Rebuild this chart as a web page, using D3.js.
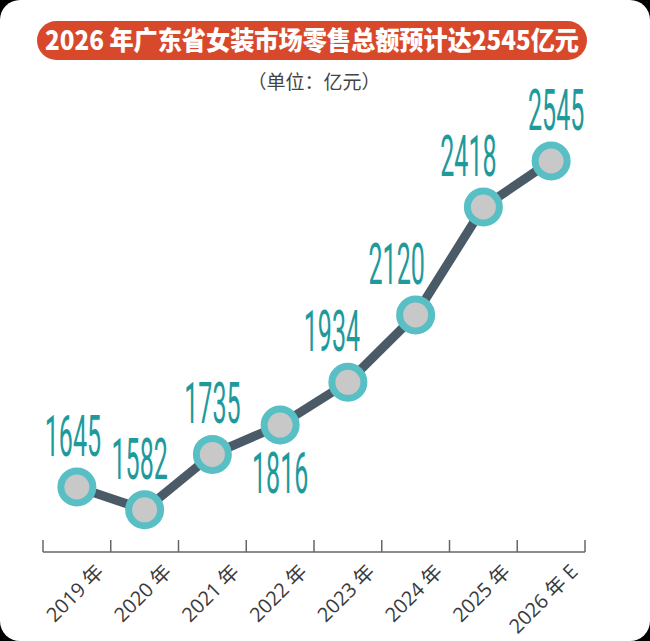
<!DOCTYPE html>
<html><head><meta charset="utf-8">
<script src="https://cdn.jsdelivr.net/npm/d3@7/dist/d3.min.js"></script>
<style>html,body{margin:0;padding:0;background:#000;}svg{display:block;}</style>
</head><body>
<script>
const titleText = "2026 年广东省女装市场零售总额预计达2545亿元";
const unitText = "（单位：亿元）";
const categories = ["2019 年","2020 年","2021 年","2022 年","2023 年","2024 年","2025 年","2026 年 E"];
const values = [1645, 1582, 1735, 1816, 1934, 2120, 2418, 2545];
const labelSide = ["above","above","above","below","above","above","above","above"];
const labelShift = [-4, -5, 0, 0, -16, -19, -15, 5];

const W = 650, H = 641;
const svg = d3.select("body").append("svg").attr("width", W).attr("height", H);
svg.append("rect").attr("x",0).attr("y",0).attr("width",W).attr("height",H).attr("fill","#000");
svg.append("rect").attr("x",0).attr("y",0).attr("width",W).attr("height",H).attr("rx",20).attr("fill","#fff");

// title pill
svg.append("rect").attr("x",37).attr("y",21).attr("width",550).attr("height",39).attr("rx",19.5).attr("fill","#d8492c");
svg.append("text").attr("x",312).attr("y",50).attr("text-anchor","middle")
  .attr("font-family","'Noto Sans CJK SC','Noto Sans',sans-serif").attr("font-weight",900)
  .attr("font-size",26).attr("fill","#fff").attr("textLength",534).attr("lengthAdjust","spacingAndGlyphs").text(titleText);
svg.append("text").attr("x",314).attr("y",89).attr("text-anchor","middle")
  .attr("font-family","'Noto Sans CJK SC',sans-serif").attr("font-size",19).attr("fill","#444").text(unitText);

const x = d3.scaleBand().domain(categories).range([43, 585]).paddingInner(0).paddingOuter(0);
const y = d3.scaleLinear().domain([1500, 2600]).range([539.5, 141.1]);
const cx = d => x(d) + x.bandwidth()/2;

// axis
const axisY = 552;
const axis = d3.axisBottom(x).tickSize(0).tickFormat("");
const ag = svg.append("g").attr("transform",`translate(0,${axisY})`).call(axis);
ag.select(".domain").attr("stroke","#666").attr("stroke-width",1.5).attr("d","M43,0H585");
const bounds = categories.map(c => x(c)).concat([x(categories[categories.length-1]) + x.bandwidth()]);
ag.selectAll("line.bt").data(bounds).enter().append("line").attr("class","bt")
  .attr("x1",d=>d).attr("x2",d=>d).attr("y1",0).attr("y2",-12).attr("stroke","#666").attr("stroke-width",1.5);
svg.append("g").selectAll("text").data(categories).enter().append("text")
  .attr("transform", d => `translate(${cx(d)+28},${axisY+21}) rotate(-45)`)
  .attr("text-anchor","end")
  .attr("font-family","'Open Sans','Noto Sans CJK SC',sans-serif").attr("font-size",20).attr("fill","#3a3a3a")
  .text(d => d);

// line
const line = d3.line().x((d,i)=>cx(categories[i])).y(d=>y(d));
svg.append("path").datum(values).attr("d",line).attr("fill","none").attr("stroke","#4b5a67").attr("stroke-width",9).attr("stroke-linejoin","round");

// points
svg.append("g").selectAll("circle").data(values).enter().append("circle")
  .attr("cx",(d,i)=>cx(categories[i])).attr("cy",d=>y(d)).attr("r",16)
  .attr("fill","#c8c8c8").attr("stroke","#58bfc5").attr("stroke-width",7);

// labels (condensed via horizontal scaling)
svg.append("g").selectAll("text").data(values).enter().append("text")
  .attr("transform",(d,i)=>`translate(${cx(categories[i]) + labelShift[i]},${labelSide[i]==="above" ? y(d) - 31 : y(d) + 68}) scale(0.44,1)`)
  .attr("text-anchor","middle")
  .attr("font-family","Roboto, sans-serif").attr("font-weight",400)
  .attr("font-size",57).attr("fill","#1f9a9c")
  .text(d => d);
</script>
</body></html>
